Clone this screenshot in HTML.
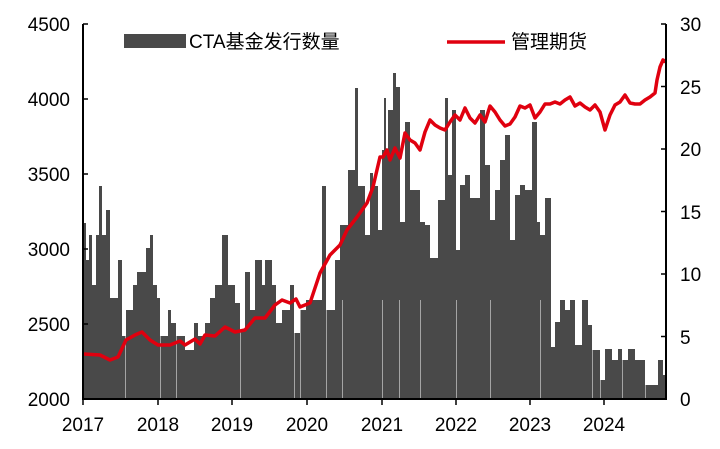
<!DOCTYPE html>
<html><head><meta charset="utf-8"><style>
body{margin:0;background:#fff;width:720px;height:444px;overflow:hidden}
svg text{font-family:"Liberation Sans","Noto Sans CJK SC",sans-serif;font-size:19px;fill:#000}
</style></head><body>
<svg id="s" width="720" height="444" xmlns="http://www.w3.org/2000/svg">
<g id="bars" fill="#494949" shape-rendering="crispEdges"></g>
<polyline id="ln" fill="none" stroke="#e0000f" stroke-width="3.5" stroke-linejoin="round"/>
<g stroke="#000" stroke-width="2">
<line x1="83" y1="24" x2="83" y2="400"/><line x1="666" y1="24" x2="666" y2="400"/><line x1="82" y1="399" x2="667" y2="399"/>
</g>
<g id="ticks" stroke="#000" stroke-width="1.5"></g>
<g text-anchor="end">
<text x="70" y="406">2000</text><text x="70" y="331">2500</text><text x="70" y="256">3000</text><text x="70" y="181">3500</text><text x="70" y="106">4000</text><text x="70" y="31">4500</text>
</g>
<g>
<text x="680" y="406">0</text><text x="680" y="344">5</text><text x="680" y="281">10</text><text x="680" y="219">15</text><text x="680" y="156">20</text><text x="680" y="94">25</text><text x="680" y="31">30</text>
</g>
<g text-anchor="middle">
<text x="83" y="431">2017</text><text x="158" y="431">2018</text><text x="232" y="431">2019</text><text x="307" y="431">2020</text><text x="382" y="431">2021</text><text x="456" y="431">2022</text><text x="530" y="431">2023</text><text x="604" y="431">2024</text>
</g>
<rect x="124" y="34" width="62" height="14" fill="#494949"/>
<text x="189" y="48">CTA基金发行数量</text>
<line x1="447" y1="42" x2="505" y2="42" stroke="#e0000f" stroke-width="3.5"/>
<text x="511" y="48">管理期货</text>
</svg>
<script>
var b=[[84,223],[86,260],[89,235],[92,285],[96,235],[99,186],[102,235],[106,210],[110,298],[118,260],[122,336],[126,310],[133,285],[137,272],[146,248],[150,235],[153,285],[157,298],[160,336],[168,310],[171,323],[176,336],[185,350],[194,323],[198,336],[205,323],[210,298],[215,285],[222,235],[228,285],[235,303],[240,330],[245,272],[250,310],[255,260],[262,285],[265,260],[272,285],[276,323],[282,310],[290,285],[294,333],[300,310],[306,300],[322,186],[326,310],[335,260],[340,225],[348,170],[355,88],[358,186],[365,235],[370,173],[373,186],[378,230],[382,150],[384,98],[386,150],[388,110],[393,73],[396,87],[400,222],[405,122],[410,190],[420,222],[425,225],[430,258],[438,200],[445,98],[448,175],[452,110],[456,250],[460,185],[465,175],[470,198],[480,110],[485,165],[490,220],[495,190],[500,160],[505,135],[510,240],[515,195],[520,185],[525,190],[532,122],[537,222],[540,235],[545,198],[551,347],[555,322],[560,300],[565,310],[570,300],[575,345],[582,300],[588,325],[592,350],[600,380],[605,349],[612,360],[618,349],[622,360],[628,349],[635,360],[645,385],[658,360],[663,375],[666,0]];
var g=document.getElementById('bars'),h='';
for(var i=0;i<b.length-1;i++){var x0=b[i][0],x1=b[i+1][0];var y=b[i][1];h+='<rect x="'+x0+'" y="'+y+'" width="'+(x1-x0)+'" height="'+(399-y)+'"/>';}
g.innerHTML=h;
var gaps=[125,160,176,240,294,300,326,342,382,399,420,456,490,540,592,600,622,645];
gaps.forEach(function(x){h+='<rect x="'+x+'" y="300" width="1" height="99" fill="#fff" opacity="0.5"/>';});
g.innerHTML=h;
var p=[[84,354],[100,355],[110,360],[118,357],[126,340],[135,335],[142,332],[150,340],[158,345],[170,345],[175,343],[180,341],[185,345],[195,339],[200,344],[205,335],[215,336],[225,327],[235,332],[245,330],[255,318],[265,318],[275,305],[282,300],[290,303],[296,299],[300,307],[310,303],[320,273],[330,255],[340,245],[347,230],[357,217],[367,203],[373,187],[380,157],[383,157],[387,150],[390,160],[395,148],[400,158],[405,133],[410,140],[415,143],[420,150],[425,132],[430,120],[435,125],[440,128],[445,130],[450,122],[455,115],[460,120],[465,108],[470,118],[475,123],[480,115],[485,122],[490,106],[495,112],[500,120],[505,126],[510,124],[515,117],[520,106],[525,108],[530,105],[535,118],[540,112],[545,104],[550,104],[555,102],[560,104],[565,100],[570,97],[575,106],[580,103],[585,107],[590,110],[595,105],[600,112],[605,130],[610,115],[615,105],[620,102],[625,95],[630,103],[635,104],[640,104],[645,100],[650,97],[655,93],[657,80],[660,67],[663,60],[666,62]];
document.getElementById('ln').setAttribute('points',p.map(function(a){return a.join(',')}).join(' '));
var t='';for(var k=0;k<6;k++){var y=24+75*k;t+='<line x1="83" y1="'+y+'" x2="88" y2="'+y+'"/>';}
for(var k=0;k<7;k++){var y=24+62.5*k;t+='<line x1="661" y1="'+y+'" x2="666" y2="'+y+'"/>';}
[83,158,232,307,382,456,530,604].forEach(function(x){t+='<line x1="'+x+'" y1="399" x2="'+x+'" y2="405"/>';});
document.getElementById('ticks').innerHTML=t;
</script>
</body></html>
